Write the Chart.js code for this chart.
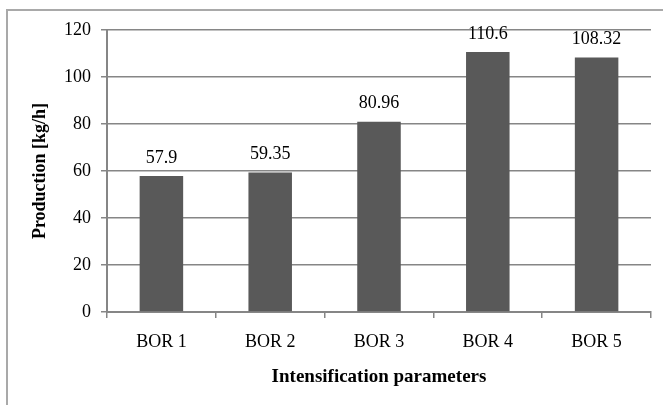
<!DOCTYPE html>
<html>
<head>
<meta charset="utf-8">
<script src="https://cdn.jsdelivr.net/npm/chart.js@4/dist/chart.umd.min.js"></script>
<style>
  html, body { margin: 0; padding: 0; background: #ffffff; overflow: hidden; }
  #frame {
    position: absolute; left: 6px; top: 9px; width: 720px; height: 460px;
    border-top: 2px solid #a9a9a9; border-left: 2px solid #a9a9a9;
  }
  #wrap { position: absolute; left: 0; top: 0; width: 663px; height: 405px; }
</style>
</head>
<body>
<div id="frame"></div>
<div id="wrap"><canvas id="chart" width="663" height="405"></canvas></div>
<script>
// Production per intensification setting
const categories = ['BOR 1', 'BOR 2', 'BOR 3', 'BOR 4', 'BOR 5'];
const production = [57.9, 59.35, 80.96, 110.6, 108.32];
const yTicks = [0, 20, 40, 60, 80, 100, 120];

const FONT = "'Liberation Serif', 'Times New Roman', serif";
const AXIS_GRAY = '#868686';

// writes each bar's value just above it
const valueLabels = {
  id: 'valueLabels',
  afterDatasetsDraw(chart) {
    const ctx = chart.ctx;
    const meta = chart.getDatasetMeta(0);
    ctx.save();
    ctx.font = '18px ' + FONT;
    ctx.fillStyle = '#000000';
    ctx.textAlign = 'center';
    ctx.textBaseline = 'bottom';
    meta.data.forEach((bar, i) => {
      ctx.fillText(String(production[i]), bar.x, bar.y - 9);
    });
    ctx.restore();
  }
};

new Chart(document.getElementById('chart'), {
  type: 'bar',
  data: {
    labels: categories,
    datasets: [{
      data: production,
      backgroundColor: '#595959',
      borderWidth: 0,
      barPercentage: 0.4,
      categoryPercentage: 1.0
    }]
  },
  options: {
    responsive: false,
    animation: false,
    devicePixelRatio: 1,
    layout: { padding: { left: 30, right: 12, top: 30, bottom: 17 } },
    plugins: { legend: { display: false }, tooltip: { enabled: false } },
    scales: {
      x: {
        offset: true,
        grid: { offset: true, drawOnChartArea: false, drawTicks: true, tickLength: 6, color: AXIS_GRAY, lineWidth: 1.5 },
        border: { display: true, color: AXIS_GRAY, width: 2 },
        ticks: { color: '#000000', font: { family: FONT, size: 18 }, padding: 13 },
        title: { display: true, text: 'Intensification parameters', color: '#000000', font: { family: FONT, size: 19, weight: 'bold' }, padding: { top: 8, bottom: 0 } },
        afterFit(scale) { scale.height = 76; }
      },
      y: {
        min: 0, max: 120,
        afterBuildTicks(scale) { scale.ticks = yTicks.map(v => ({ value: v })); },
        grid: { color: AXIS_GRAY, lineWidth: 1.5, drawTicks: true, tickLength: 6 },
        border: { display: true, color: AXIS_GRAY, width: 2 },
        ticks: { color: '#000000', font: { family: FONT, size: 18 }, padding: 10 },
        title: { display: true, text: 'Production [kg/h]', color: '#000000', font: { family: FONT, size: 18, weight: 'bold' }, padding: { top: 0, bottom: 0 } },
        afterFit(scale) { scale.width = 77; }
      }
    }
  },
  plugins: [valueLabels]
});
</script>
</body>
</html>
